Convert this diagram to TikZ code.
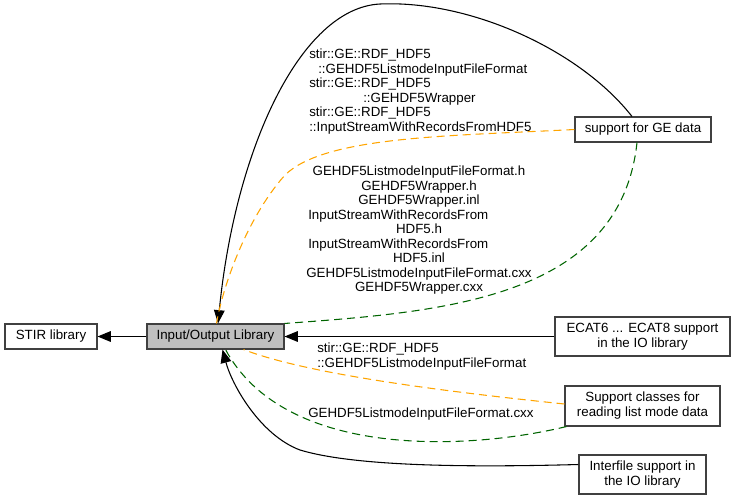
\documentclass[tikz,border=0pt]{standalone}
\usepackage{fontspec}
\setmainfont{Liberation Sans}
\usetikzlibrary{arrows.meta,calc}
\definecolor{grpgrey}{HTML}{BFBFBF}
\definecolor{grporange}{HTML}{FFA500}
\definecolor{grpgreen}{HTML}{006400}
\definecolor{grpedge}{HTML}{404040}

\tikzset{
  grpbox/.style={draw=grpedge, line width=0.8pt, fill=white, align=center, inner sep=0pt,
    font=\fontsize{10}{11.25}\selectfont},
  grpdep/.style={black, line width=0.8pt, -{Triangle[length=10pt,width=8pt]}},
  clslink/.style={grporange, line width=0.8pt, dash pattern=on 6pt off 3.75pt},
  filelink/.style={grpgreen, line width=0.8pt, dash pattern=on 6pt off 3.75pt},
  lbl/.style={inner sep=0pt, font=\fontsize{10}{11.25}\selectfont},
}

\begin{document}
\begin{tikzpicture}[x=0.75pt, y=-0.75pt]
  \useasboundingbox (0,0) rectangle (736,501);
  % groups
  \node[grpbox, minimum width=69pt, minimum height=18.75pt] (stir) at (51,336.5) {STIR library};
  \node[grpbox, fill=grpgrey, minimum width=102.75pt, minimum height=18.75pt] (io) at (215.5,336.5) {Input/Output Library};
  \node[grpbox, minimum width=102pt, minimum height=18.75pt] (gedata) at (643,129.5) {support for GE data};
  \node[grpbox, minimum width=131.25pt, minimum height=29.25pt] (ecat) at (642.5,336.5) {ECAT6 ... ECAT8 support\\in the IO library};
  \node[grpbox, minimum width=116.25pt, minimum height=30pt] (listmode) at (642.5,406) {Support classes for\\reading list mode data};
  \node[grpbox, minimum width=95.25pt, minimum height=29.25pt] (interfile) at (642.5,474.5) {Interfile support in\\the IO library};

  % group dependencies
  \draw[grpdep] (io) -- (stir);
  \draw[grpdep] (ecat) -- (io);
  \draw[grpdep] ($(gedata.north)+(-11,0)$) .. controls (580,50) and (470,0) .. (380,4)
      .. controls (300,8) and (235,150) .. ($(io.north)+(2.5,0)$);
  \draw[grpdep] ($(interfile.west)+(0,-10)$) .. controls (450,468) and (350,465) .. (300,450)
      .. controls (260,435) and (232,385) .. ($(io.south)+(7,0)$);

  % classes and files
  \draw[clslink] (gedata.west) .. controls (450,136) and (325,136) .. (285,175)
      .. controls (245,220) and (222,290) .. ($(io.north)+(1,0)$);
  \draw[filelink] ($(gedata.south)+(-6,0)$) .. controls (620,300) and (440,312) .. (io.north east);
  \draw[clslink] ($(listmode.west)+(0,-2)$) .. controls (450,392) and (310,375) .. ($(io.south)+(28,0)$);
  \draw[filelink] ($(listmode.south west)+(2,0)$) .. controls (470,450) and (285,460) .. ($(io.south)+(10,0)$);

  % labels of support for GE data
  \node[lbl, anchor=base west] (gecls1) at (309,58.5) {stir::GE::RDF\_HDF5};
  \node[lbl, anchor=base west] (gecls2) at (318,73) {::GEHDF5ListmodeInputFileFormat};
  \node[lbl, anchor=base west] (gecls3) at (309,87.5) {stir::GE::RDF\_HDF5};
  \node[lbl, anchor=base west] (gecls4) at (363,102) {::GEHDF5Wrapper};
  \node[lbl, anchor=base west] (gecls5) at (309,116.5) {stir::GE::RDF\_HDF5};
  \node[lbl, anchor=base west] (gecls6) at (309,131) {::InputStreamWithRecordsFromHDF5};

  \node[lbl, anchor=base] (gefile1) at (419,175.5) {GEHDF5ListmodeInputFileFormat.h};
  \node[lbl, anchor=base] (gefile2) at (419,190) {GEHDF5Wrapper.h};
  \node[lbl, anchor=base] (gefile3) at (419,204.5) {GEHDF5Wrapper.inl};
  \node[lbl, anchor=base west] (gefile4) at (308,219) {InputStreamWithRecordsFrom};
  \node[lbl, anchor=base] (gefile5) at (419,233.5) {HDF5.h};
  \node[lbl, anchor=base west] (gefile6) at (308,248) {InputStreamWithRecordsFrom};
  \node[lbl, anchor=base] (gefile7) at (419,262.5) {HDF5.inl};
  \node[lbl, anchor=base] (gefile8) at (419,277) {GEHDF5ListmodeInputFileFormat.cxx};
  \node[lbl, anchor=base] (gefile9) at (419,291.5) {GEHDF5Wrapper.cxx};

  % labels of list mode support
  \node[lbl, anchor=base west] (lmcls1) at (317,352.5) {stir::GE::RDF\_HDF5};
  \node[lbl, anchor=base west] (lmcls2) at (317,367.5) {::GEHDF5ListmodeInputFileFormat};
  \node[lbl, anchor=base west] (lmfile1) at (308,417.5) {GEHDF5ListmodeInputFileFormat.cxx};
\end{tikzpicture}
\end{document}
